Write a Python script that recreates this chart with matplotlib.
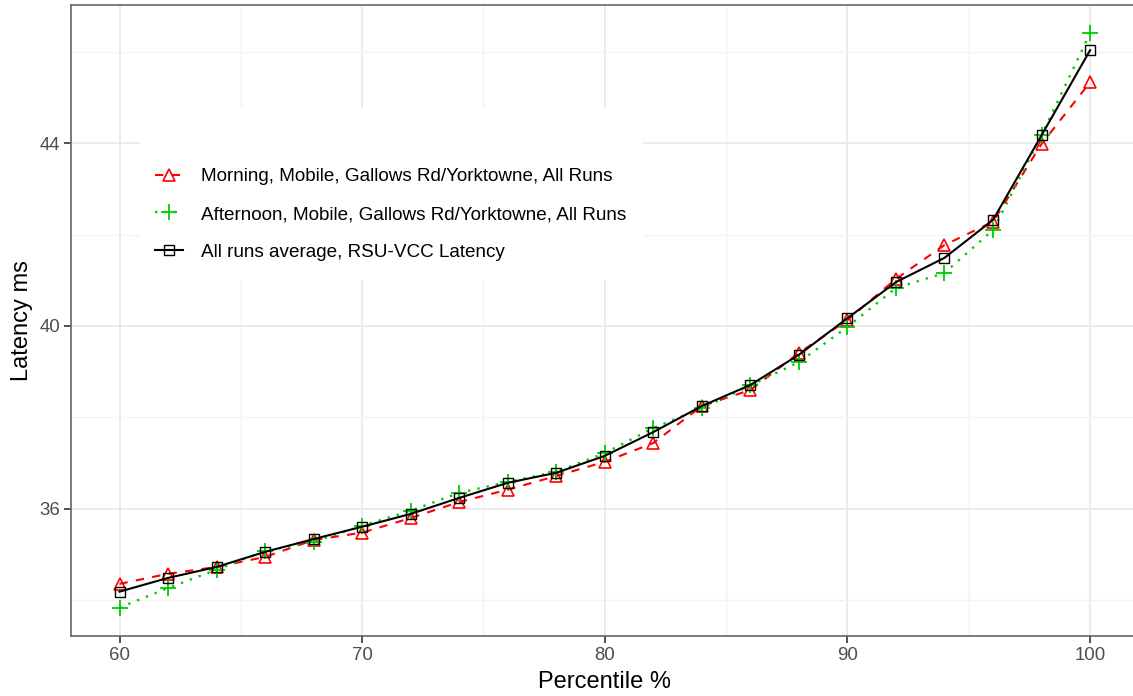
import numpy as np
import matplotlib.pyplot as plt
from matplotlib.lines import Line2D
from matplotlib.patches import Rectangle

plt.rcParams['font.family'] = ['Liberation Sans', 'DejaVu Sans']

# percentile values on the x axis
percentile = [60, 62, 64, 66, 68, 70, 72, 74, 76, 78, 80,
              82, 84, 86, 88, 90, 92, 94, 96, 98, 100]

# latency (ms)
morning = [34.36, 34.58, 34.73, 34.95, 35.32, 35.48, 35.80, 36.15, 36.42, 36.72, 37.03,
           37.44, 38.25, 38.60, 39.41, 40.13, 41.03, 41.77, 42.28, 43.98, 45.33]
afternoon = [33.84, 34.27, 34.67, 35.08, 35.28, 35.63, 35.96, 36.35, 36.59, 36.81, 37.22,
             37.77, 38.20, 38.70, 39.21, 39.98, 40.83, 41.16, 42.10, 44.17, 46.40]
average = [34.19, 34.49, 34.73, 35.06, 35.34, 35.61, 35.89, 36.24, 36.57, 36.79, 37.16,
           37.68, 38.25, 38.71, 39.37, 40.17, 40.96, 41.49, 42.32, 44.17, 46.03]

labels = ['Morning, Mobile, Gallows Rd/Yorktowne, All Runs',
          'Afternoon, Mobile, Gallows Rd/Yorktowne, All Runs',
          'All runs average, RSU-VCC Latency']

W, H = 1133, 696
fig = plt.figure(figsize=(W/100, H/100), dpi=100)
ax = fig.add_axes([71/W, 1-636/H, 1067.6/W, 631/H])

red_style = dict(color='#FF0000', linestyle=(0, (4, 4)), lw=1.5, marker='^', ms=9,
                 mfc='none', mec='#FF0000', mew=1.2)
green_style = dict(color='#00CC00', linestyle=(0, (1, 3)), lw=1.7, marker='+', ms=11,
                   mec='#00CC00', mew=1.3)
black_style = dict(color='black', linestyle='-', lw=1.5, marker='s', ms=7,
                   mfc='none', mec='black', mew=1.0)

# lines
ax.plot(percentile, morning, zorder=3, **red_style)
ax.plot(percentile, afternoon, zorder=3, **green_style)
ax.plot(percentile, average, zorder=4, **black_style)

ax.set_xlim(58, 102)
ax.set_ylim(33.22, 47.02)
ax.set_xticks([60, 70, 80, 90, 100])
ax.set_xticks([65, 75, 85, 95], minor=True)
ax.set_yticks([36, 40, 44])
ax.set_yticks([34, 38, 42, 46], minor=True)

# ggplot-like grid
ax.grid(which='major', color='#EBEBEB', lw=1.4)
ax.grid(which='minor', color='#F2F2F2', lw=1.0)
ax.set_axisbelow(True)
ax.tick_params(which='minor', length=0)
ax.tick_params(which='major', length=5, width=1.2, color='#333333',
               labelsize=13.4, labelcolor='#4D4D4D', pad=3)
for s in ax.spines.values():
    s.set_color('#666666')
    s.set_linewidth(1.2)

ax.set_xlabel('Percentile %', fontsize=17, labelpad=5)
ax.set_ylabel('Latency ms', fontsize=17, labelpad=4)

# white legend background box
ax.add_patch(Rectangle((140/W, 1-280/H), 503/W, 172/H, transform=fig.transFigure,
                       facecolor='white', edgecolor='none', zorder=1))

handles = [Line2D([], [], **red_style), Line2D([], [], **green_style),
           Line2D([], [], **black_style)]
leg = ax.legend(handles, labels, loc='upper left',
                bbox_to_anchor=(155/W, 1-168/H), bbox_transform=fig.transFigure,
                fontsize=13.6, frameon=False, handlelength=1.5, handletextpad=0.95,
                labelspacing=1.09, borderpad=0, borderaxespad=0)

fig.savefig('out.png', dpi=100)
